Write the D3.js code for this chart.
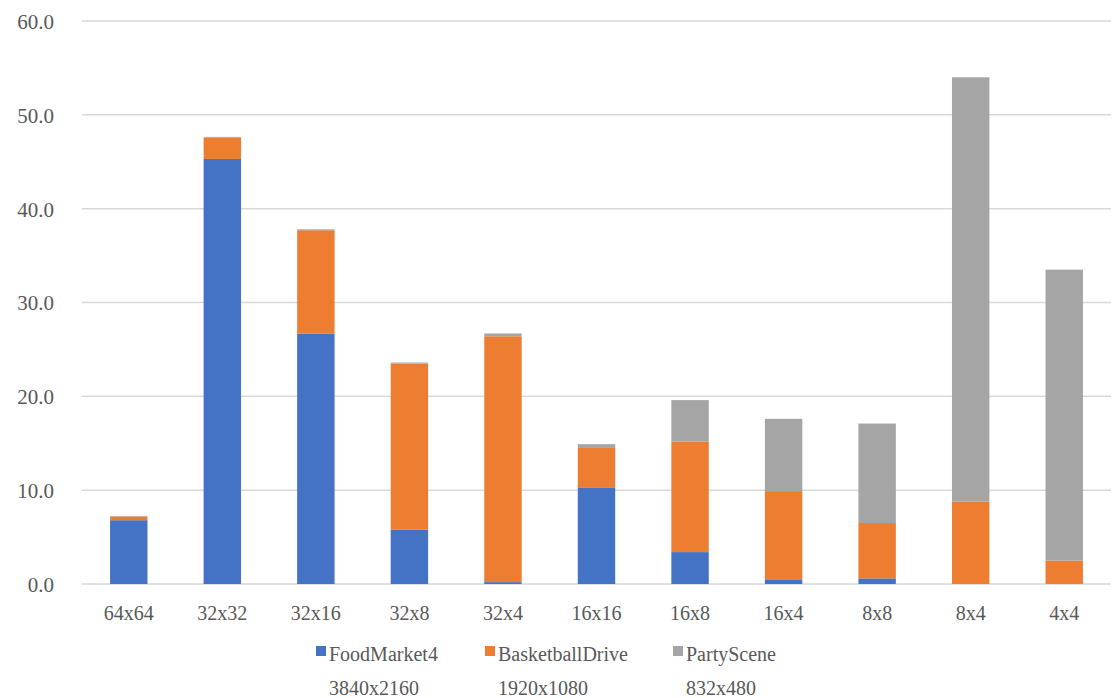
<!DOCTYPE html>
<html>
<head>
<meta charset="utf-8">
<script src="https://cdn.jsdelivr.net/npm/d3@7"></script>
<style>
  body { margin: 0; background: #fff; }
</style>
</head>
<body>
<div class="grafico"></div>
<script>
// categorie e serie
var categorie = ["64x64", "32x32", "32x16", "32x8", "32x4", "16x16", "16x8", "16x4", "8x8", "8x4", "4x4"];
var foodMarket = [6.8, 45.3, 26.7, 5.8, 0.2, 10.3, 3.4, 0.5, 0.6, 0.0, 0.0];
var basketball = [0.4, 2.3, 11.0, 17.7, 26.2, 4.2, 11.8, 9.4, 5.9, 8.8, 2.5];
var partyScene = [0.05, 0.05, 0.1, 0.1, 0.3, 0.4, 4.4, 7.7, 10.6, 45.2, 31.0];
var nomiSerie = ["FoodMarket4", "BasketballDrive", "PartyScene"];
var risoluzioni = ["3840x2160", "1920x1080", "832x480"];
var colori = ["#4472C4", "#ED7D31", "#A5A5A5"];
var tickY = [0, 10, 20, 30, 40, 50, 60];

var w = 1117,
    h = 698;
var carattere = "'Liberation Serif', 'DejaVu Serif', serif";

var svg = d3.select(".grafico")
    .append("svg")
    .attr("width", w)
    .attr("height", h)
    .attr("font-family", carattere);

var sinistra = 82, destra = 1111, alto = 21, basso = 584;

var x = d3.scaleBand()
    .domain(categorie)
    .range([sinistra, destra])
    .paddingInner(0.6)
    .paddingOuter(0.3);

var y = d3.scaleLinear()
    .domain([0, 60])
    .range([basso, alto]);

// linee della griglia
svg.append("g")
    .selectAll("line")
    .data(tickY)
    .enter()
    .append("line")
    .attr("x1", sinistra)
    .attr("x2", destra)
    .attr("y1", function (d) { return y(d); })
    .attr("y2", function (d) { return y(d); })
    .attr("stroke", "#d9d9d9")
    .attr("stroke-width", 1.5);

// asse y
var assey = svg.append("g")
    .attr("transform", "translate(54,0)")
    .call(d3.axisLeft(y).tickValues(tickY).tickSize(0).tickPadding(0).tickFormat(d3.format(".1f")));
assey.attr("font-family", carattere).attr("font-size", 21);
assey.select(".domain").remove();
assey.selectAll("text")
    .attr("dy", "0.35em")
    .attr("fill", "#595959");

// asse x
var assex = svg.append("g")
    .attr("transform", "translate(0," + basso + ")")
    .call(d3.axisBottom(x).tickSize(0).tickPadding(36));
assex.attr("font-family", carattere).attr("font-size", 20);
assex.select(".domain").remove();
assex.selectAll("text")
    .attr("dy", "0")
    .attr("fill", "#595959");

// barre impilate
var righe = categorie.map(function (c, i) {
    return { cat: c, s0: foodMarket[i], s1: basketball[i], s2: partyScene[i] };
});
var pila = d3.stack().keys(["s0", "s1", "s2"])(righe);

svg.append("g")
    .selectAll("g")
    .data(pila)
    .enter()
    .append("g")
    .attr("fill", function (d, i) { return colori[i]; })
    .selectAll("rect")
    .data(function (d) { return d; })
    .enter()
    .append("rect")
    .attr("x", function (d) { return x(d.data.cat); })
    .attr("width", x.bandwidth())
    .attr("y", function (d) { return y(d[1]); })
    .attr("height", function (d) { return y(d[0]) - y(d[1]); });

// legenda
var posLegenda = [316, 485, 673];
var legenda = svg.append("g");
nomiSerie.forEach(function (nome, i) {
    var g = legenda.append("g").attr("transform", "translate(" + posLegenda[i] + ",0)");
    g.append("rect")
        .attr("x", 0)
        .attr("y", 646)
        .attr("width", 10)
        .attr("height", 10)
        .attr("fill", colori[i]);
    g.append("text")
        .attr("x", 13)
        .attr("y", 661)
        .attr("font-size", 20)
        .attr("fill", "#595959")
        .text(nome);
    g.append("text")
        .attr("x", 13)
        .attr("y", 695)
        .attr("font-size", 20)
        .attr("fill", "#595959")
        .text(risoluzioni[i]);
});
</script>
</body>
</html>
